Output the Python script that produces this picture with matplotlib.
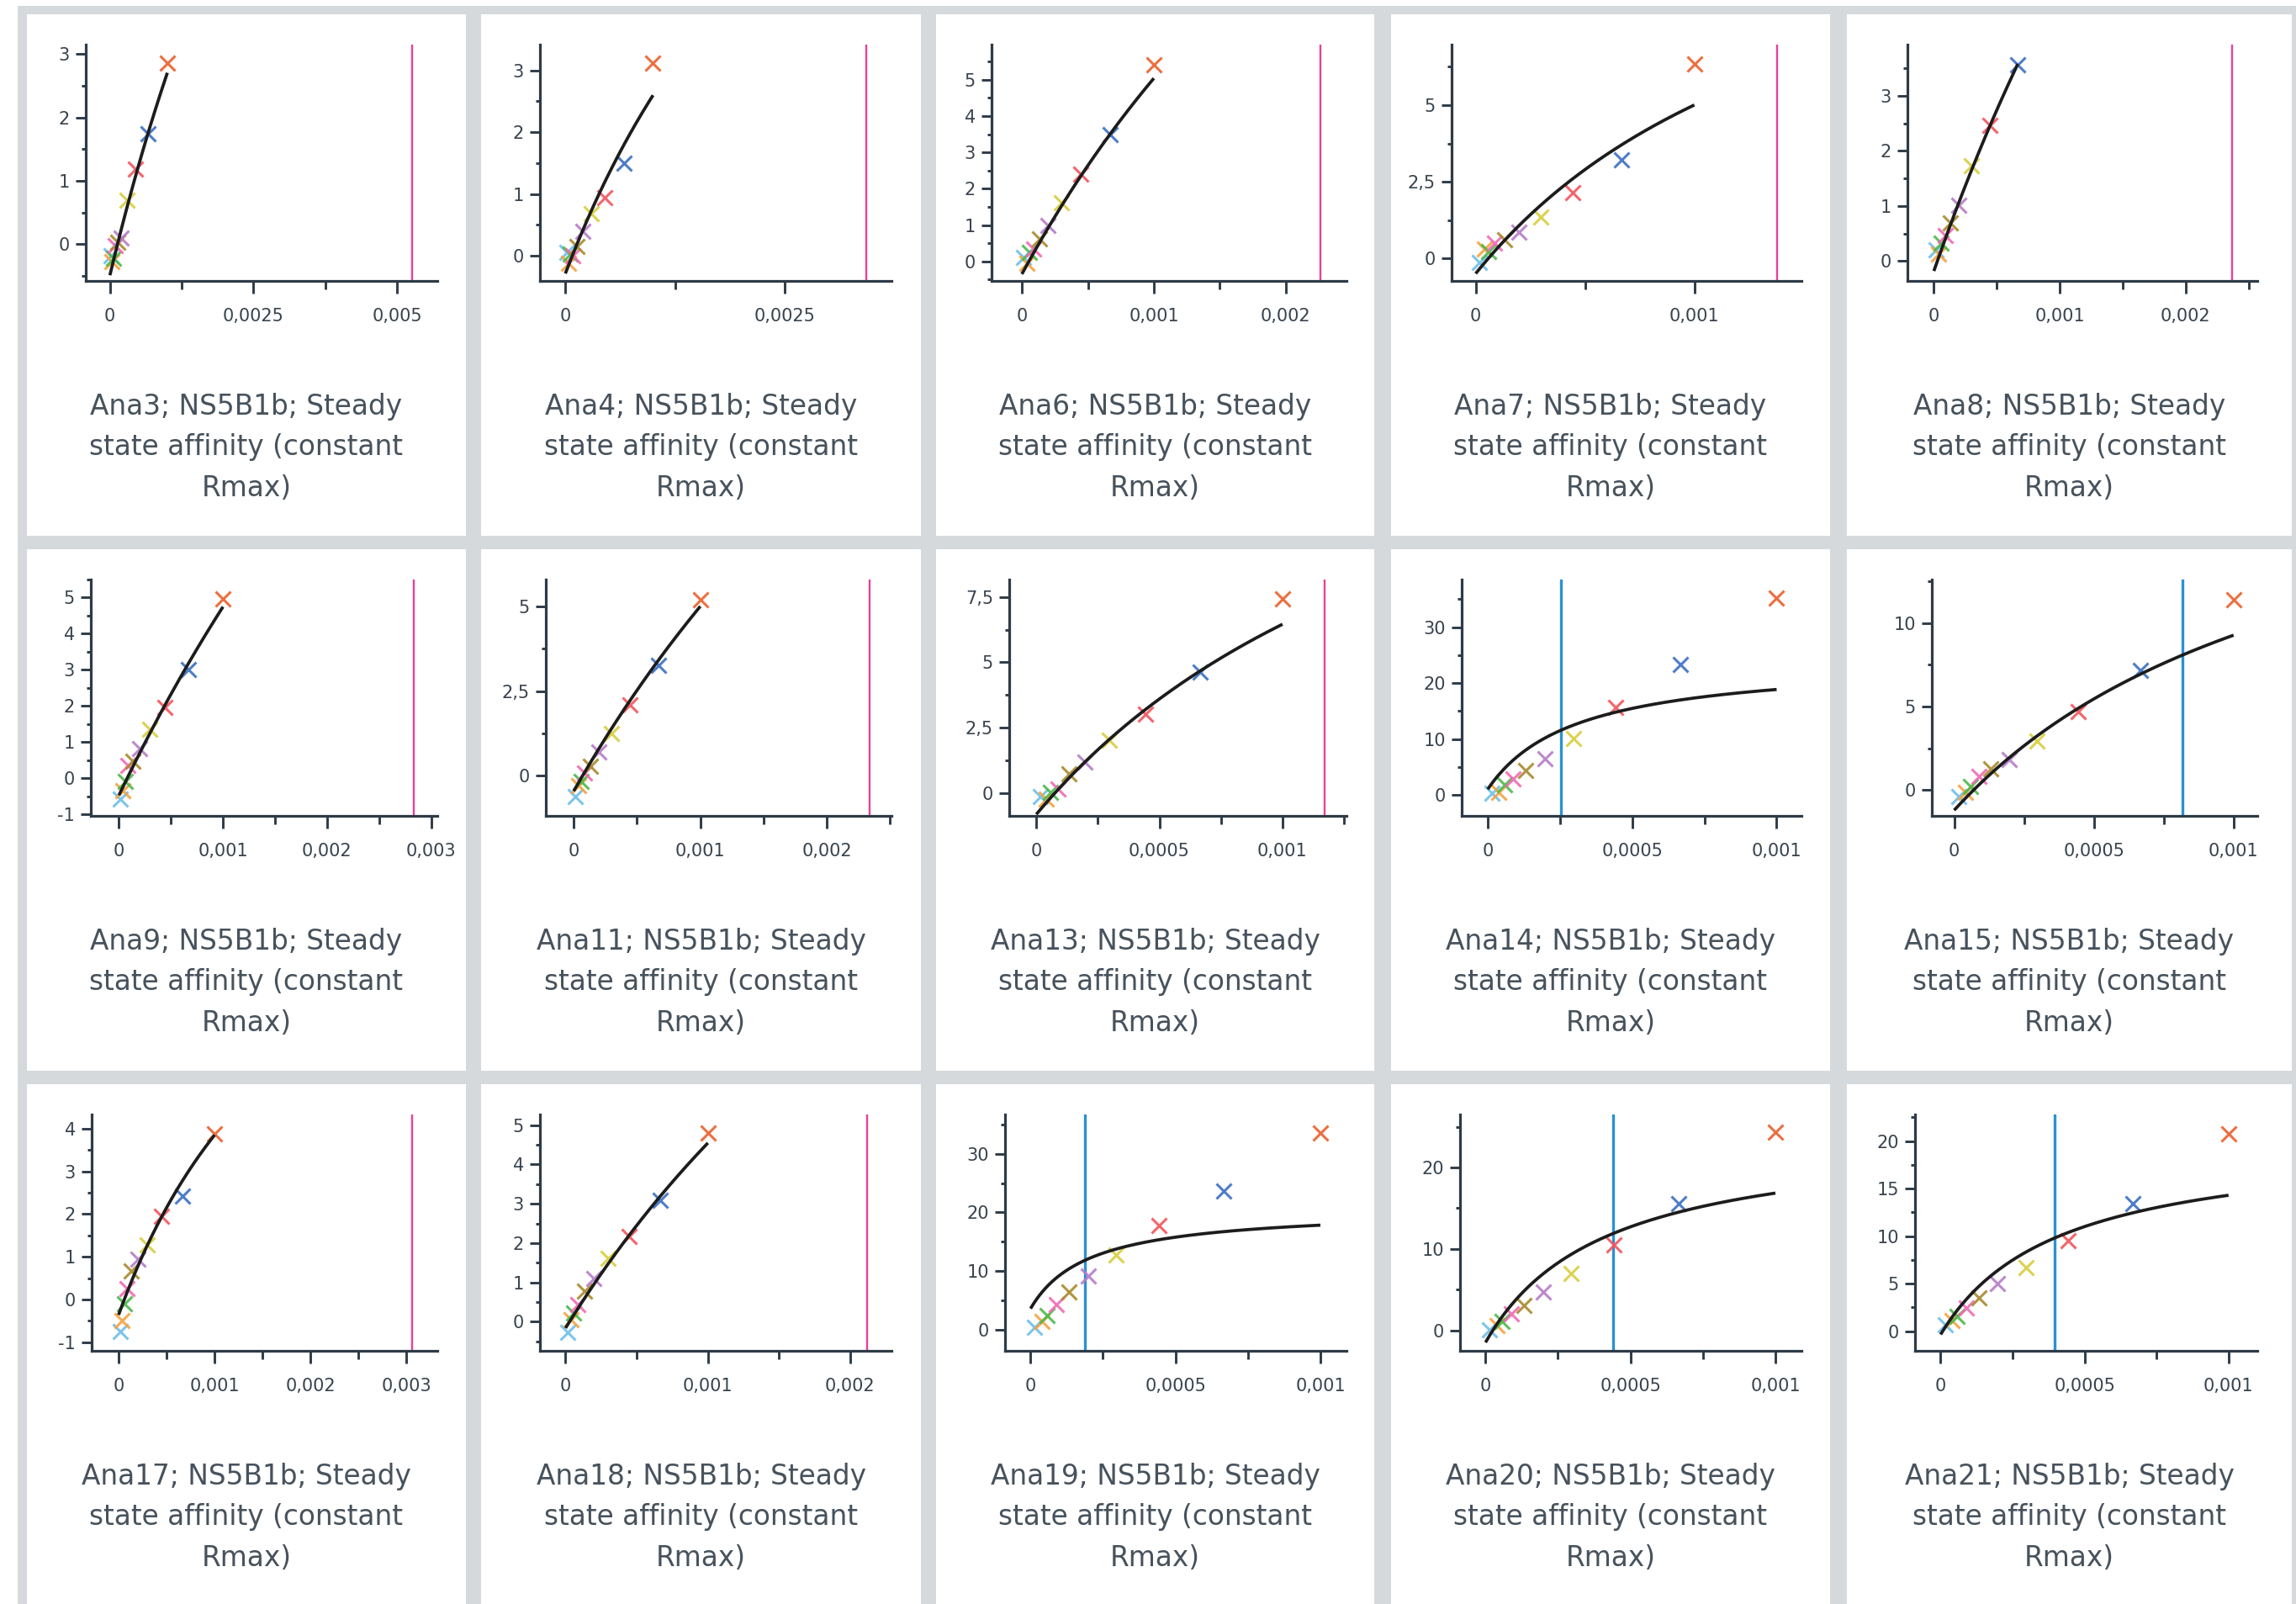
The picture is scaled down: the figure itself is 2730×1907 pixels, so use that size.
import numpy as np
import matplotlib
matplotlib.use("Agg")
import matplotlib.pyplot as plt
from matplotlib.patches import Rectangle
from matplotlib.ticker import MultipleLocator, FuncFormatter

# ---------------- data ----------------
names = ["Ana3", "Ana4", "Ana6", "Ana7", "Ana8",
         "Ana9", "Ana11", "Ana13", "Ana14", "Ana15",
         "Ana17", "Ana18", "Ana19", "Ana20", "Ana21"]

# analyte concentrations (M), lowest to highest
conc = [1.5e-5, 3.9e-5, 5.85e-5, 8.8e-5, 1.32e-4, 1.98e-4, 2.96e-4, 4.44e-4, 6.67e-4, 1.0e-3]
point_colors = ["#6fbfe8", "#f5a23f", "#4cb84a", "#f06bb4", "#a88a2c",
                "#b67cc8", "#d8ce3f", "#f2545b", "#3b6fc2", "#e8612d"]

resp_ana3 = [-0.18, -0.28, -0.22, -0.02, 0.03, 0.10, 0.69, 1.18, 1.74, 2.86]
resp_ana4 = [0.05, -0.12, 0.02, 0.00, 0.15, 0.40, 0.68, 0.94, 1.50, 3.12]
resp_ana6 = [0.10, -0.05, 0.25, 0.35, 0.62, 1.00, 1.62, 2.40, 3.50, 5.42]
resp_ana7 = [-0.14, 0.32, 0.23, 0.50, 0.60, 0.87, 1.35, 2.16, 3.21, 6.33]
resp_ana8 = [0.20, 0.13, 0.33, 0.46, 0.69, 1.02, 1.73, 2.47, 3.57, np.nan]
resp_ana9 = [-0.58, -0.35, -0.08, 0.35, 0.47, 0.82, 1.36, 1.97, 3.02, 4.96]
resp_ana11 = [-0.62, -0.29, -0.17, 0.08, 0.29, 0.70, 1.24, 2.10, 3.26, 5.19]
resp_ana13 = [-0.11, -0.21, 0.05, 0.16, 0.75, 1.18, 2.04, 3.01, 4.64, 7.41]
resp_ana14 = [0.25, 0.5, 1.8, 2.8, 4.4, 6.5, 10.1, 15.7, 23.3, 35.2]
resp_ana15 = [-0.37, -0.12, 0.22, 0.84, 1.27, 1.81, 2.94, 4.68, 7.19, 11.37]
resp_ana17 = [-0.75, -0.49, -0.10, 0.26, 0.66, 0.95, 1.28, 1.94, 2.43, 3.88]
resp_ana18 = [-0.27, 0.05, 0.23, 0.44, 0.77, 1.10, 1.62, 2.16, 3.09, 4.79]
resp_ana19 = [0.4, 1.4, 2.4, 4.3, 6.4, 9.1, 12.7, 17.7, 23.7, 33.5]
resp_ana20 = [0.07, 0.6, 1.1, 2.0, 3.1, 4.75, 7.0, 10.5, 15.6, 24.3]
resp_ana21 = [0.68, 1.13, 1.57, 2.46, 3.5, 5.0, 6.7, 9.5, 13.4, 20.8]
responses = [resp_ana3, resp_ana4, resp_ana6, resp_ana7, resp_ana8,
             resp_ana9, resp_ana11, resp_ana13, resp_ana14, resp_ana15,
             resp_ana17, resp_ana18, resp_ana19, resp_ana20, resp_ana21]

# steady state affinity fit: R = offset + Rmax * C / (K + C)
fit_offset = [-0.49, -0.29, -0.35, -0.49, -0.18, -0.47, -0.45, -0.80, 1.0, -1.2,
              -0.36, -0.16, 3.6, -1.5, -0.36]
fit_rmax = [20.0, 12.8, 27.5, 14.5, 26.3, 38.6, 32.7, 20.6, 23.3, 24.5,
            13.05, 24.0, 17.1, 25.9, 20.65]
fit_k = [0.00526, 0.00343, 0.0041, 0.00164, 0.004, 0.0064, 0.005, 0.00184, 0.000306, 0.00134,
         0.0021, 0.0041, 0.000202, 0.000412, 0.000409]

# KD marker line
kd_line = [0.00526, 0.00343, 0.00226, 0.00138, 0.00237, 0.00283, 0.00234, 0.00117, 0.000253, 0.000818,
           0.00306, 0.00212, 0.000189, 0.000441, 0.000395]
kd_outside = [True, True, True, True, True, True, True, True, False, False,
              True, True, False, False, False]

# axes ranges and tick steps
x_limits = [(-0.00042, 0.0057), (-0.00029, 0.00372), (-0.00023, 0.00246), (-0.00011, 0.00149), (-0.00021, 0.00257),
            (-0.00027, 0.00306), (-0.00022, 0.00251), (-0.00011, 0.00126), (-0.00009, 0.001086), (-0.00008, 0.001085),
            (-0.00028, 0.00332), (-0.00018, 0.00229), (-0.000088, 0.00109), (-0.000088, 0.00109), (-0.000089, 0.0011)]
y_limits = [(-0.58, 3.15), (-0.41, 3.42), (-0.54, 5.97), (-0.73, 6.97), (-0.36, 3.93),
            (-1.04, 5.5), (-1.18, 5.79), (-0.86, 8.16), (-3.76, 38.5), (-1.54, 12.6),
            (-1.2, 4.33), (-0.74, 5.27), (-3.6, 36.7), (-2.53, 26.5), (-2.08, 22.8)]
x_major = [0.0025, 0.0025, 0.001, 0.001, 0.001,
           0.001, 0.001, 0.0005, 0.0005, 0.0005,
           0.001, 0.001, 0.0005, 0.0005, 0.0005]
y_major = [1, 1, 1, 2.5, 1,
           1, 2.5, 2.5, 10, 5,
           1, 1, 10, 10, 5]

# ---------------- layout (pixels) ----------------
W, H, DPI = 2730, 1907, 100
card_lefts = [32, 572, 1113, 1654, 2196]
card_widths = [522, 523, 521, 522, 529]
card_tops = [17, 653, 1289]
card_h = 620
axes_left_rel = [70, 70, 66, 72, 72,
                 76, 77, 87, 84, 101,
                 77, 70, 82, 82, 81]
axes_right_rel = 488
axes_top_rel = 36
axes_bottom_rel = 317

AXIS_C = "#2e3b47"
TICK_C = "#38434e"
TITLE_C = "#47525c"
MAGENTA = "#ea3f9c"
BLUE = "#2b91d3"

plt.rcParams["font.family"] = ["DejaVu Sans"]

fig = plt.figure(figsize=(W / DPI, H / DPI), dpi=DPI, facecolor="white")

# grey frame behind the cards
fig.patches.append(Rectangle((21 / W, 0), (W - 21) / W, (H - 7) / H,
                             transform=fig.transFigure, facecolor="#d6d9dc",
                             edgecolor="none", zorder=0))


def fmt(v, pos):
    s = f"{v:.6g}"
    if s in ("-0", "0", "-0.0"):
        return "0"
    return s.replace(".", ",")


for i, name in enumerate(names):
    r, c = divmod(i, 5)
    cl, ct, cw = card_lefts[c], card_tops[r], card_widths[c]
    fig.patches.append(Rectangle((cl / W, 1 - (ct + card_h) / H), cw / W, card_h / H,
                                 transform=fig.transFigure, facecolor="white",
                                 edgecolor="none", zorder=1))

    lrel = axes_left_rel[i]
    ax = fig.add_axes([(cl + lrel) / W, 1 - (ct + axes_bottom_rel) / H,
                       (axes_right_rel - lrel) / W, (axes_bottom_rel - axes_top_rel) / H])
    ax.set_facecolor("none")
    ax.set_zorder(3)

    x = np.array(conc)
    y = np.array(responses[i], dtype=float)

    # KD line
    ax.axvline(kd_line[i], color=MAGENTA if kd_outside[i] else BLUE,
               lw=1.7 if kd_outside[i] else 2.4, zorder=1)

    # data points
    for xv, yv, col in zip(x, y, point_colors):
        if np.isfinite(yv):
            ax.plot([xv], [yv], marker="x", ms=13.5, mew=2.2, color=col,
                    alpha=0.9, ls="none", zorder=2)

    # fitted curve
    xmax = x[np.isfinite(y)].max()
    xc = np.linspace(0, xmax, 200)
    yc = fit_offset[i] + fit_rmax[i] * xc / (fit_k[i] + xc)
    ax.plot(xc, yc, color="#1c1c1c", lw=2.7, zorder=3, solid_capstyle="butt")

    ax.set_xlim(*x_limits[i])
    ax.set_ylim(*y_limits[i])

    ax.xaxis.set_major_locator(MultipleLocator(x_major[i]))
    ax.xaxis.set_minor_locator(MultipleLocator(x_major[i] / 2))
    ax.yaxis.set_major_locator(MultipleLocator(y_major[i]))
    ax.yaxis.set_minor_locator(MultipleLocator(y_major[i] / 2))
    ax.xaxis.set_major_formatter(FuncFormatter(fmt))
    ax.yaxis.set_major_formatter(FuncFormatter(fmt))

    for side in ("top", "right"):
        ax.spines[side].set_visible(False)
    for side in ("left", "bottom"):
        ax.spines[side].set_color(AXIS_C)
        ax.spines[side].set_linewidth(2.3)

    ax.tick_params(axis="x", which="major", direction="out", length=10.8, width=2.1,
                   color=AXIS_C, labelcolor=TICK_C, labelsize=15, pad=12)
    ax.tick_params(axis="x", which="minor", direction="out", length=7.2, width=2.1, color=AXIS_C)
    ax.tick_params(axis="y", which="major", direction="out", length=8.6, width=2.1,
                   color=AXIS_C, labelcolor=TICK_C, labelsize=15, pad=5)
    ax.tick_params(axis="y", which="minor", direction="out", length=3.6, width=2.1, color=AXIS_C)

    title = f"{name}; NS5B1b; Steady\nstate affinity (constant\nRmax)"
    fig.text((cl + cw / 2) / W, 1 - (ct + 515) / H, title, ha="center", va="center",
             fontsize=23.6, color=TITLE_C, linespacing=1.6, zorder=5)

fig.savefig("out.png", dpi=DPI, facecolor="white")
